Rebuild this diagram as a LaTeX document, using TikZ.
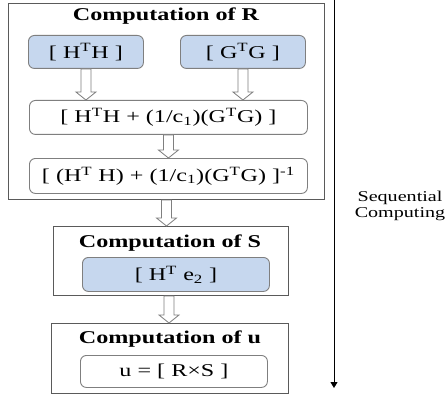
\documentclass[tikz,border=0pt]{standalone}
\usepackage{fontspec}
\setmainfont{Liberation Serif}
\usepackage{graphicx}
\usetikzlibrary{arrows.meta,calc}

\definecolor{boxblue}{HTML}{C6D7EE}
\definecolor{rimgray}{HTML}{7F7F7F}
\definecolor{framegray}{HTML}{5A5A5A}

% widened text, as in the original drawing
\newcommand\wide[1]{\scalebox{1.34}[1]{#1}}
\newcommand\sups[1]{\textsuperscript{#1}}
\newcommand\subs[1]{\textsubscript{#1}}

% hollow block arrow going straight down from #1 to #2
\newcommand\hollowarrow[2]{%
  \path[blockarrow] let \p1=#1, \p2=#2 in
    (\x1-5pt,\y1) -- (\x1-5pt,\y2+8pt) -- (\x1-10pt,\y2+8pt) -- (\x1,\y2)
    -- (\x1+10pt,\y2+8pt) -- (\x1+5pt,\y2+8pt) -- (\x1+5pt,\y1) -- cycle;}

\tikzset{
  frame/.style={draw=framegray, line width=1pt, fill=white, inner sep=0pt,
    anchor=north west},
  calcbox/.style={draw=rimgray, rounded corners=6pt, line width=0.9pt,
    inner sep=0pt, anchor=north west, font=\fontsize{18}{20}\selectfont},
  bluebox/.style={calcbox, fill=boxblue},
  whitebox/.style={calcbox, fill=white},
  title/.style={font=\fontsize{18}{20}\selectfont\bfseries, inner sep=0pt},
  blockarrow/.style={draw=rimgray, fill=white, line width=0.8pt, line join=miter},
}

\begin{document}
\begin{tikzpicture}[x=1pt,y=-1pt]
\useasboundingbox (0,0) rectangle (445,396);

% computation of R
\node[frame, minimum width=316pt, minimum height=196pt] (R) at (8,3) {};
\node[title] (Rtitle) at (166,16) {\wide{Computation of R}};
\node[bluebox, minimum width=115pt, minimum height=33pt] (hth) at (28,35)
  {\wide{[ H\sups{T}H ]}};
\node[bluebox, minimum width=125pt, minimum height=33pt] (gtg) at (180,35)
  {\wide{[ G\sups{T}G ]}};
\node[whitebox, minimum width=278pt, minimum height=34pt] (sum) at (29,100)
  {\wide{[ H\sups{T}H + (1/c\subs{1})(G\sups{T}G) ]}};
\node[whitebox, minimum width=278pt, minimum height=35pt] (inv) at (29,158)
  {\wide{[ (H\sups{T} H) + (1/c\subs{1})(G\sups{T}G) ]\sups{-1}}};

% computation of S
\node[frame, minimum width=235pt, minimum height=69pt] (S) at (53,226) {};
\node[title] (Stitle) at (170,243) {\wide{Computation of S}};
\node[bluebox, minimum width=187pt, minimum height=34pt] (hte) at (82,257)
  {\wide{[ H\sups{T} e\subs{2} ]}};

% computation of u
\node[frame, minimum width=237pt, minimum height=70pt] (U) at (51,323) {};
\node[title] (Utitle) at (170,339) {\wide{Computation of u}};
\node[whitebox, minimum width=187pt, minimum height=32pt] (prod) at (80,355)
  {\wide{u = [ R×S ]}};

% flow between the steps
\hollowarrow{(hth.south)}{(hth.south |- sum.north)}
\hollowarrow{(gtg.south)}{(gtg.south |- sum.north)}
\hollowarrow{(sum.south)}{(inv.north)}
\hollowarrow{(R.south)}{(R.south |- S.north)}
\hollowarrow{($(S.south)+(-2,0)$)}{($(S.south |- U.north)+(-2,0)$)}

% time axis
\coordinate (seqtop) at (334,0);
\coordinate (seqend) at (334,388);
\draw[line width=1pt, -{Triangle[length=6pt,width=7pt]}] (seqtop) -- (seqend);
\node[font=\fontsize{15}{16}\selectfont, align=center, inner sep=0pt]
  (seq) at (400,206) {\wide{Sequential}\\\wide{Computing}};
\end{tikzpicture}
\end{document}
